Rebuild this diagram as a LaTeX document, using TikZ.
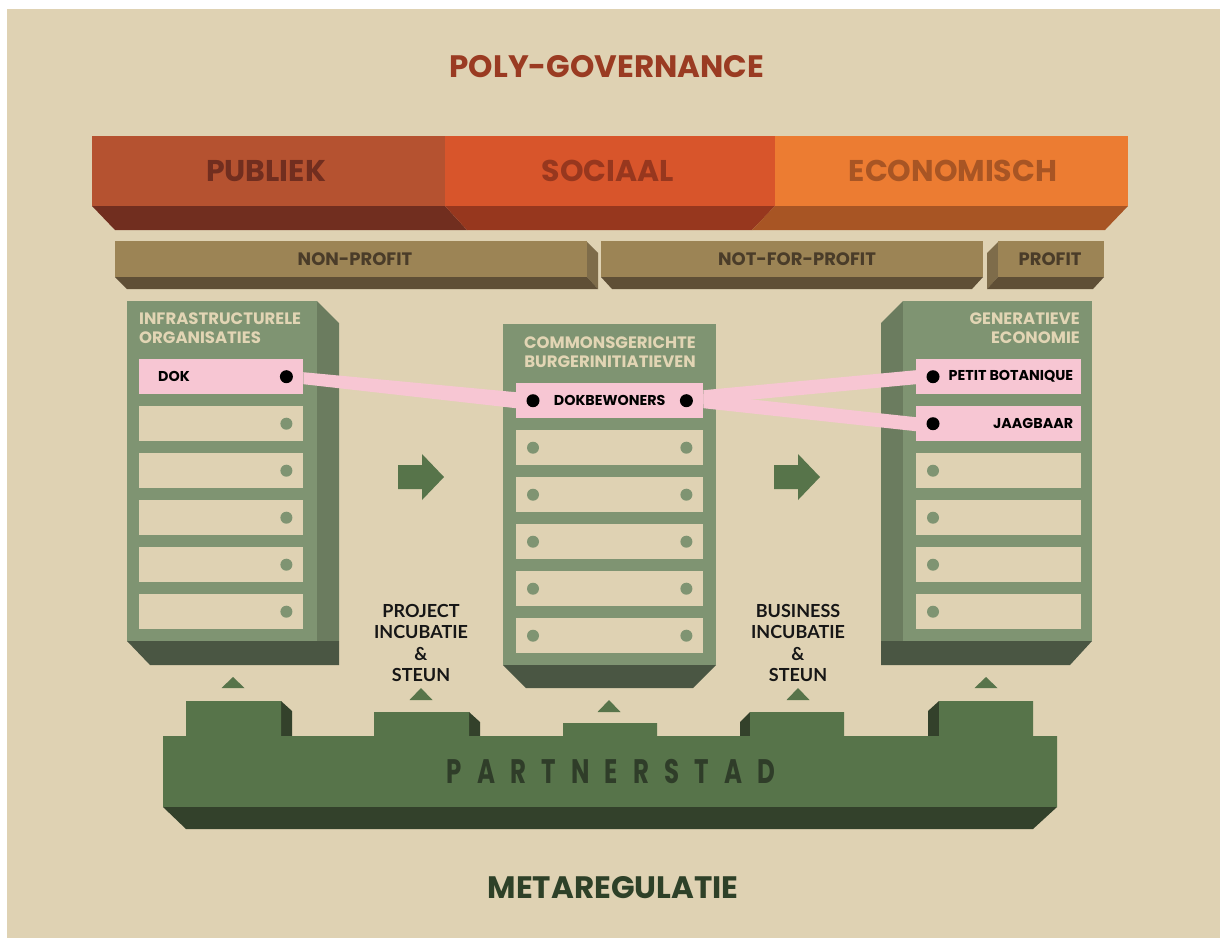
\documentclass[tikz,border=0pt]{standalone}
\usepackage{fontspec}
\setmainfont{Poppins}
\newfontfamily\labfont{Lato}
\newfontfamily\spacedfont{Poppins}[LetterSpace=62]
\usetikzlibrary{calc}
\definecolor{bg}{HTML}{DFD2B3}
\definecolor{titlered}{HTML}{9A3B22}
\definecolor{pubtop}{HTML}{B55230}
\definecolor{pubbot}{HTML}{712E1F}
\definecolor{soctop}{HTML}{D8552B}
\definecolor{socbot}{HTML}{97371E}
\definecolor{ecotop}{HTML}{EC7C32}
\definecolor{ecobot}{HTML}{A85524}
\definecolor{tantop}{HTML}{9C8455}
\definecolor{tanside}{HTML}{7E6C4A}
\definecolor{tanbot}{HTML}{5F4F36}
\definecolor{tantext}{HTML}{4A3C29}
\definecolor{colface}{HTML}{7F9472}
\definecolor{colside}{HTML}{6B7C5F}
\definecolor{colbot}{HTML}{4A5643}
\definecolor{headtxt}{HTML}{E2D5B4}
\definecolor{pinkc}{HTML}{F7C6D3}
\definecolor{darkg}{HTML}{57744A}
\definecolor{darkerg}{HTML}{33412B}
\definecolor{partxt}{HTML}{2F3D29}
\definecolor{metatxt}{HTML}{2E4128}
\definecolor{inktxt}{HTML}{161616}
\begin{document}
\begin{tikzpicture}[x=1pt,y=-1pt,
  bigtxt/.style={font=\fontsize{30}{36}\selectfont\bfseries, inner sep=0},
  tanlab/.style={font=\fontsize{18}{22}\selectfont\bfseries, text=tantext, inner sep=0},
  colhead/.style={font=\fontsize{16.5}{19.5}\selectfont\bfseries, text=headtxt, inner sep=0},
  rowtxt/.style={font=\fontsize{14.3}{17}\selectfont\bfseries, text=black, inner sep=0},
  inclab/.style={font=\labfont\fontsize{18}{21.5}\selectfont\bfseries, text=inktxt, align=center, inner sep=0},
  rowbox/.style={fill=bg, draw=none, minimum height=35, inner sep=0, anchor=north west},
  pinkrow/.style={rowbox, fill=pinkc},
  gdot/.style={fill=colface},
  bdot/.style={fill=black},
  band/.style={fill=pinkc},
  marker/.style={fill=darkg},
]
\useasboundingbox (0,0) rectangle (1220,938);
\fill[white] (0,0) rectangle (1220,938);
\fill[bg] (7,9) rectangle (1220,938);

% title
\node[font=\fontsize{31}{37}\selectfont\bfseries, text=titlered, inner sep=0] (title) at (607,67) {POLY-GOVERNANCE};

% top bars
\fill[pubtop] (92,136) rectangle (445,206);
\fill[pubbot] (92,206) -- (445,206) -- (467,230) -- (115,230) -- cycle;
\fill[soctop] (445,136) rectangle (775,206);
\fill[socbot] (445,206) -- (775,206) -- (752,230) -- (467,230) -- cycle;
\fill[ecotop] (775,136) rectangle (1128,206);
\fill[ecobot] (775,206) -- (1128,206) -- (1105,230) -- (752,230) -- cycle;
\node[bigtxt, text=pubbot] (publiek) at (266,171) {PUBLIEK};
\node[bigtxt, text=socbot] (sociaal) at (608,171) {SOCIAAL};
\node[bigtxt, text=ecobot] (economisch) at (953,171) {ECONOMISCH};

% profit bars
\fill[tanside] (587,242) -- (598,253) -- (598,289) -- (587,277) -- cycle;
\fill[tantop] (115,241) rectangle (587,277);
\fill[tanbot] (115,277) -- (587,277) -- (598,289) -- (127,289) -- cycle;
\fill[tantop] (601,241) rectangle (983,277);
\fill[tanbot] (601,277) -- (983,277) -- (972,289) -- (612,289) -- cycle;
\fill[tanside] (987,253) -- (998,242) -- (998,277) -- (987,289) -- cycle;
\fill[tantop] (998,241) rectangle (1104,277);
\fill[tanbot] (998,277) -- (1104,277) -- (1093,289) -- (987,289) -- cycle;
\node[tanlab] (nonprofit) at (355,259) {NON-PROFIT};
\node[tanlab] (notforprofit) at (797,259) {NOT-FOR-PROFIT};
\node[tanlab] (profit) at (1050,259) {PROFIT};

% left column
\fill[colside] (317,301) -- (339,323) -- (339,641) -- (317,641) -- cycle;
\fill[colface] (127,301) rectangle (317,641);
\fill[colbot] (127,641) -- (339,641) -- (339,665) -- (150,665) -- cycle;
% centre column
\fill[colface] (503,324) rectangle (716,665);
\fill[colbot] (503,665) -- (716,665) -- (693,688) -- (526,688) -- cycle;
% right column
\fill[colside] (881,323) -- (903,301) -- (903,641) -- (881,641) -- cycle;
\fill[colface] (903,301) rectangle (1092,641);
\fill[colbot] (881,641) -- (1092,641) -- (1070,665) -- (881,665) -- cycle;

% headings
\node[colhead, align=left, anchor=west] (infra) at (139,328) {INFRASTRUCTURELE\\ORGANISATIES};
\node[colhead, align=center] (commons) at (610,352) {COMMONSGERICHTE\\BURGERINITIATIEVEN};
\node[colhead, align=right, anchor=east] (gener) at (1080,328) {GENERATIEVE\\ECONOMIE};

% rows
\node[pinkrow, minimum width=164] (L0) at (139,359) {};
\foreach \k in {1,...,5} \node[rowbox, minimum width=164] (L\k) at (139,359+47*\k) {};
\node[pinkrow, minimum width=187] (C0) at (516,383) {};
\foreach \k in {1,...,5} \node[rowbox, minimum width=187] (C\k) at (516,383+47*\k) {};
\node[pinkrow, minimum width=165] (R0) at (916,359) {};
\node[pinkrow, minimum width=165] (R1) at (916,406) {};
\foreach \k in {2,...,5} \node[rowbox, minimum width=165] (R\k) at (916,359+47*\k) {};

% pink connectors
\fill[band] ($(L0.east)+(0,-4.5)$) -- ($(C0.west)+(0,-8.5)$) -- ($(C0.west)+(0,7.5)$) -- ($(L0.east)+(0,7.5)$) -- cycle;
\fill[band] ($(C0.east)+(0,-10.5)$) -- ($(R0.west)+(0,-6.5)$) -- ($(R0.west)+(0,7.5)$) -- ($(C0.east)+(0,3.5)$) -- cycle;
\fill[band] ($(C0.east)+(0,-6.5)$) -- ($(R1.west)+(0,-6.5)$) -- ($(R1.west)+(0,7.5)$) -- ($(C0.east)+(0,7.5)$) -- cycle;

% dots
\fill[bdot] ($(L0.east)+(-17,0)$) circle (6.5);
\foreach \k in {1,...,5} \fill[gdot] ($(L\k.east)+(-17,0)$) circle (6);
\fill[bdot] ($(C0.west)+(17,0)$) circle (6.5);
\fill[bdot] ($(C0.east)+(-17,0)$) circle (6.5);
\foreach \k in {1,...,5} {\fill[gdot] ($(C\k.west)+(17,0)$) circle (6); \fill[gdot] ($(C\k.east)+(-17,0)$) circle (6);}
\fill[bdot] ($(R0.west)+(17,0)$) circle (6.5);
\fill[bdot] ($(R1.west)+(17,0)$) circle (6.5);
\foreach \k in {2,...,5} \fill[gdot] ($(R\k.west)+(17,0)$) circle (6);

% row texts
\node[rowtxt, anchor=west] (dok) at ($(L0.west)+(19,0)$) {DOK};
\node[rowtxt] (dokbew) at (C0.center) {DOKBEWONERS};
\node[rowtxt, anchor=east] (petit) at ($(R0.east)+(-8,0)$) {PETIT BOTANIQUE};
\node[rowtxt, anchor=east] (jaag) at ($(R1.east)+(-8,0)$) {JAAGBAAR};

% arrows
\fill[darkg] (398,465) -- (422,465) -- (422,454) -- (444,477) -- (422,500) -- (422,489) -- (398,489) -- cycle;
\fill[darkg] (774,465) -- (798,465) -- (798,454) -- (820,477) -- (798,500) -- (798,489) -- (774,489) -- cycle;

% incubation labels
\node[inclab] (project) at (421,643) {PROJECT\\INCUBATIE\\\&\\STEUN};
\node[inclab] (business) at (798,643) {BUSINESS\\INCUBATIE\\\&\\STEUN};

% markers
\fill[marker] (221.5,688) -- (233,677) -- (244.5,688) -- cycle;
\fill[marker] (409.5,700) -- (421,688) -- (432.5,700) -- cycle;
\fill[marker] (597.5,712) -- (609,700) -- (620.5,712) -- cycle;
\fill[marker] (786.5,700) -- (798,688) -- (809.5,700) -- cycle;
\fill[marker] (974.5,688) -- (986,677) -- (997.5,688) -- cycle;

% partnerstad
\fill[darkerg] (281,701) -- (292,711) -- (292,736) -- (281,736) -- cycle;
\fill[darkerg] (469,712) -- (480,722) -- (480,736) -- (469,736) -- cycle;
\fill[darkerg] (750,712) -- (740,722) -- (740,736) -- (750,736) -- cycle;
\fill[darkerg] (939,701) -- (928,711) -- (928,736) -- (939,736) -- cycle;
\fill[darkg] (163,736) -- (186,736) -- (186,701) -- (281,701) -- (281,736) -- (374,736) -- (374,712) -- (469,712) -- (469,736)
  -- (563,736) -- (563,723) -- (657,723) -- (657,736) -- (750,736) -- (750,712) -- (844,712) -- (844,736)
  -- (939,736) -- (939,701) -- (1033,701) -- (1033,736) -- (1057,736) -- (1057,807) -- (163,807) -- cycle;
\fill[darkerg] (163,807) -- (1057,807) -- (1033,829) -- (186,829) -- cycle;
\node[inner sep=0, text=partxt, font=\fontsize{34}{38}\selectfont\bfseries] (partner) at (611,771) {\scalebox{0.72}[1]{\spacedfont\bfseries PARTNERSTAD}};

% bottom title
\node[font=\fontsize{31}{36}\selectfont\bfseries, text=metatxt, inner sep=0] (meta) at (613,888) {METAREGULATIE};
\end{tikzpicture}
\end{document}
